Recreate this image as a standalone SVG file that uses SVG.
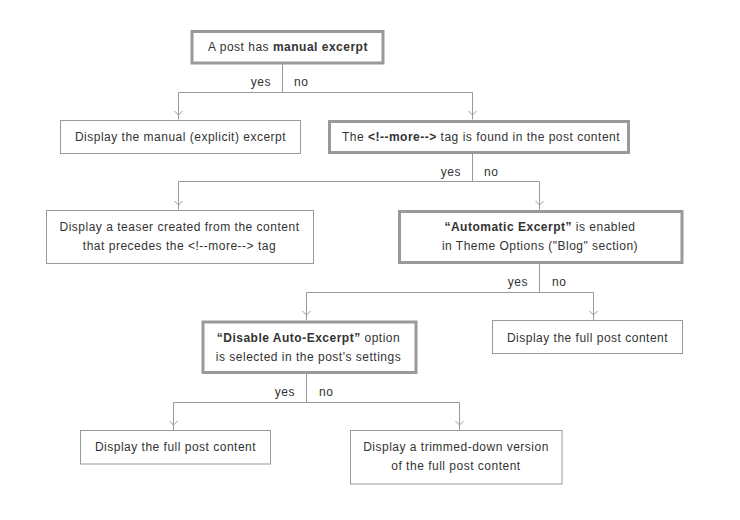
<svg xmlns="http://www.w3.org/2000/svg" width="740" height="520" viewBox="0 0 740 520">
<defs>
<style>
.bx{fill:#fff;stroke:#999;stroke-width:1}
.bk{fill:#fff;stroke:#999;stroke-width:3}
.t{font-family:"Liberation Sans",Arial,sans-serif;font-size:12px;fill:#333;text-anchor:middle;letter-spacing:0.5px}
.b{font-weight:bold}
.l{font-family:"Liberation Sans",Arial,sans-serif;font-size:12px;fill:#333;letter-spacing:0.5px}
.c{fill:none;stroke:#999;stroke-width:1}
</style>
</defs>
<rect width="740" height="520" fill="#fff"/>
<g id="connectors">
<path class="c" d="M282.5,64 V92.5 M178.5,92.5 H472.5 M178.5,92.5 V119.5 M472.5,92.5 V119.5"/>
<path class="c" d="M178.5,115 l-4,-4 M178.5,115 l4,-4 M472.5,115 l-4,-4 M472.5,115 l4,-4"/>
<path class="c" d="M472.5,154 V181.5 M178.5,181.5 H539.5 M178.5,181.5 V209.5 M539.5,181.5 V209.5"/>
<path class="c" d="M178.5,205 l-4,-4 M178.5,205 l4,-4 M539.5,205 l-4,-4 M539.5,205 l4,-4"/>
<path class="c" d="M539.5,264 V292.5 M306.5,292.5 H593.5 M306.5,292.5 V320 M593.5,292.5 V320"/>
<path class="c" d="M306.5,315 l-4,-4 M306.5,315 l4,-4 M593.5,315 l-4,-4 M593.5,315 l4,-4"/>
<path class="c" d="M306.5,374 V402.5 M173.5,402.5 H459.5 M173.5,402.5 V430 M459.5,402.5 V430"/>
<path class="c" d="M173.5,425 l-4,-4 M173.5,425 l4,-4 M459.5,425 l-4,-4 M459.5,425 l4,-4"/>
<text class="l" x="271" y="86" text-anchor="end">yes</text>
<text class="l" x="294" y="86">no</text>
<text class="l" x="461" y="176" text-anchor="end">yes</text>
<text class="l" x="484" y="176">no</text>
<text class="l" x="528" y="286" text-anchor="end">yes</text>
<text class="l" x="552" y="286">no</text>
<text class="l" x="295" y="396" text-anchor="end">yes</text>
<text class="l" x="319" y="396">no</text>
</g>
<g id="n1">
<rect class="bk" x="192" y="31.5" width="191" height="31.5"/>
<text class="t" x="288" y="51">A post has <tspan class="b">manual excerpt</tspan></text>
</g>
<g id="n2">
<rect class="bx" x="60.5" y="120.5" width="240" height="33"/>
<text class="t" x="180.5" y="141">Display the manual (explicit) excerpt</text>
</g>
<g id="n3">
<rect class="bk" x="329.5" y="121.5" width="299" height="31"/>
<text class="t" x="481" y="141">The <tspan class="b">&lt;!--more--&gt;</tspan> tag is found in the post content</text>
</g>
<g id="n4">
<rect class="bx" x="46.5" y="210.5" width="267" height="53"/>
<text class="t" x="179.5" y="231">Display a teaser created from the content</text>
<text class="t" x="179.5" y="250">that precedes the &lt;!--more--&gt; tag</text>
</g>
<g id="n5">
<rect class="bk" x="399.5" y="211.5" width="282.5" height="51"/>
<text class="t" x="540" y="231"><tspan class="b">“Automatic Excerpt”</tspan> is enabled</text>
<text class="t" x="540" y="250">in Theme Options ("Blog" section)</text>
</g>
<g id="n6">
<rect class="bk" x="203" y="322" width="213" height="50.5"/>
<text class="t" x="308.5" y="342"><tspan class="b">“Disable Auto-Excerpt”</tspan> option</text>
<text class="t" x="308.5" y="361">is selected in the post's settings</text>
</g>
<g id="n7">
<rect class="bx" x="492.5" y="320.5" width="190" height="33"/>
<text class="t" x="587.5" y="342">Display the full post content</text>
</g>
<g id="n8">
<rect class="bx" x="80.5" y="430.5" width="190" height="33.5"/>
<text class="t" x="175.5" y="451">Display the full post content</text>
</g>
<g id="n9">
<rect class="bx" x="350.5" y="430.5" width="211.5" height="53.5"/>
<text class="t" x="456" y="451">Display a trimmed-down version</text>
<text class="t" x="456" y="470">of the full post content</text>
</g>
</svg>
